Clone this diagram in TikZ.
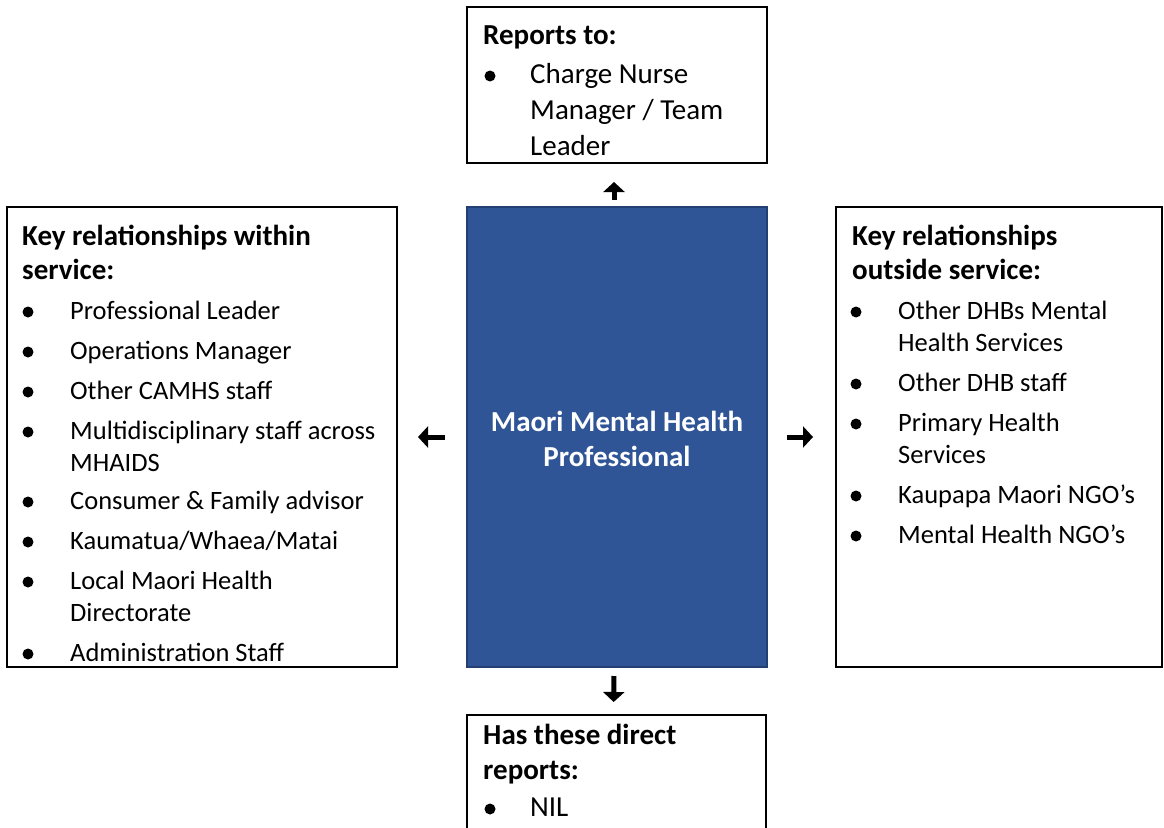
\documentclass[tikz,border=0pt]{standalone}
\usepackage{fontspec}
\setmainfont{Carlito}
\usetikzlibrary{arrows.meta}
\definecolor{roleblue}{RGB}{47,85,151}
\definecolor{roleedge}{RGB}{36,64,114}
\tikzset{
  box/.style={draw=black, line width=2pt, rectangle, inner sep=0pt, outer sep=0pt, anchor=north west},
  rolebox/.style={box, fill=roleblue, draw=roleedge},
  txt/.style={anchor=base west, inner sep=0pt, font=\fontsize{26.5}{32}\selectfont},
  bigtxt/.style={anchor=base west, inner sep=0pt, font=\fontsize{29}{35}\selectfont},
  head/.style={anchor=base west, inner sep=0pt, font=\fontsize{29}{35}\selectfont\bfseries},
  roletxt/.style={anchor=base, inner sep=0pt, text=white, font=\fontsize{29}{35}\selectfont\bfseries},
  dot/.style={circle, fill=black, inner sep=0pt, minimum size=11pt},
  link/.style={line width=5pt, -{Triangle[width=21pt,length=10pt]}}
}
\begin{document}
\begin{tikzpicture}[x=1pt,y=-1pt]
\useasboundingbox (0,0) rectangle (1164,827);
\clip (0,0) rectangle (1164,827);

% boxes
\node[box, minimum width=300, minimum height=156] (top) at (467,7) {};
\node[rolebox, minimum width=300, minimum height=460] (role) at (467,207) {};
\node[box, minimum width=390, minimum height=460] (within) at (7,207) {};
\node[box, minimum width=326, minimum height=460] (outside) at (836,207) {};
\node[box, minimum width=299, minimum height=200] (direct) at (467,715) {};

% central role
\node[roletxt] (role1) at (617,431) {Maori Mental Health};
\node[roletxt] (role2) at (617,466) {Professional};

% reports to
\node[head] (toph) at (483,44) {Reports to:};
\node[dot] (topd) at (490,76) {};
\node[bigtxt] (topt1) at (530,83) {Charge Nurse};
\node[bigtxt] (topt2) at (530,119) {Manager / Team};
\node[bigtxt] (topt3) at (530,155) {Leader};

% key relationships within service
\node[head] (winh1) at (22,245) {Key relationships within};
\node[head] (winh2) at (22,279) {service:};
\foreach \y [count=\i] in {319,359,399,439,509,549,589,661}
  \node[dot] (wind\i) at (28,\y-7) {};
\foreach \y/\t [count=\i] in {319/{Professional Leader}, 359/{Operations Manager},
    399/{Other CAMHS staff}, 439/{Multidisciplinary staff across}, 471/{MHAIDS},
    509/{Consumer \& Family advisor}, 549/{Kaumatua/Whaea/Matai},
    589/{Local Maori Health}, 621/{Directorate}, 661/{Administration Staff}}
  \node[txt] (wint\i) at (70,\y) {\t};

% key relationships outside service
\node[head] (outh1) at (852,245) {Key relationships};
\node[head] (outh2) at (852,279) {outside service:};
\foreach \y [count=\i] in {319,391,431,503,543}
  \node[dot] (outd\i) at (856,\y-7) {};
\foreach \y/\t [count=\i] in {319/{Other DHBs Mental}, 351/{Health Services},
    391/{Other DHB staff}, 431/{Primary Health}, 463/{Services},
    503/{Kaupapa Maori NGO’s}, 543/{Mental Health NGO’s}}
  \node[txt] (outt\i) at (898,\y) {\t};

% direct reports
\node[head] (dirh1) at (483,744) {Has these direct};
\node[head] (dirh2) at (483,779) {reports:};
\node[dot] (dird) at (490,809) {};
\node[bigtxt] (dirt) at (530,816) {NIL};

% arrows
\draw[link, shorten <=22pt, shorten >=21pt] (role.west) -- (within.east);
\draw[link, shorten <=20pt, shorten >=23pt] (role.east) -- (outside.west);
\draw[link, shorten <=7pt, shorten >=19pt] ([xshift=-3pt]role.north) -- ([xshift=-3pt]top.south);
\draw[link, shorten <=9pt, shorten >=13pt] ([xshift=-3pt]role.south) -- ([xshift=-3pt]direct.north);
\end{tikzpicture}
\end{document}
